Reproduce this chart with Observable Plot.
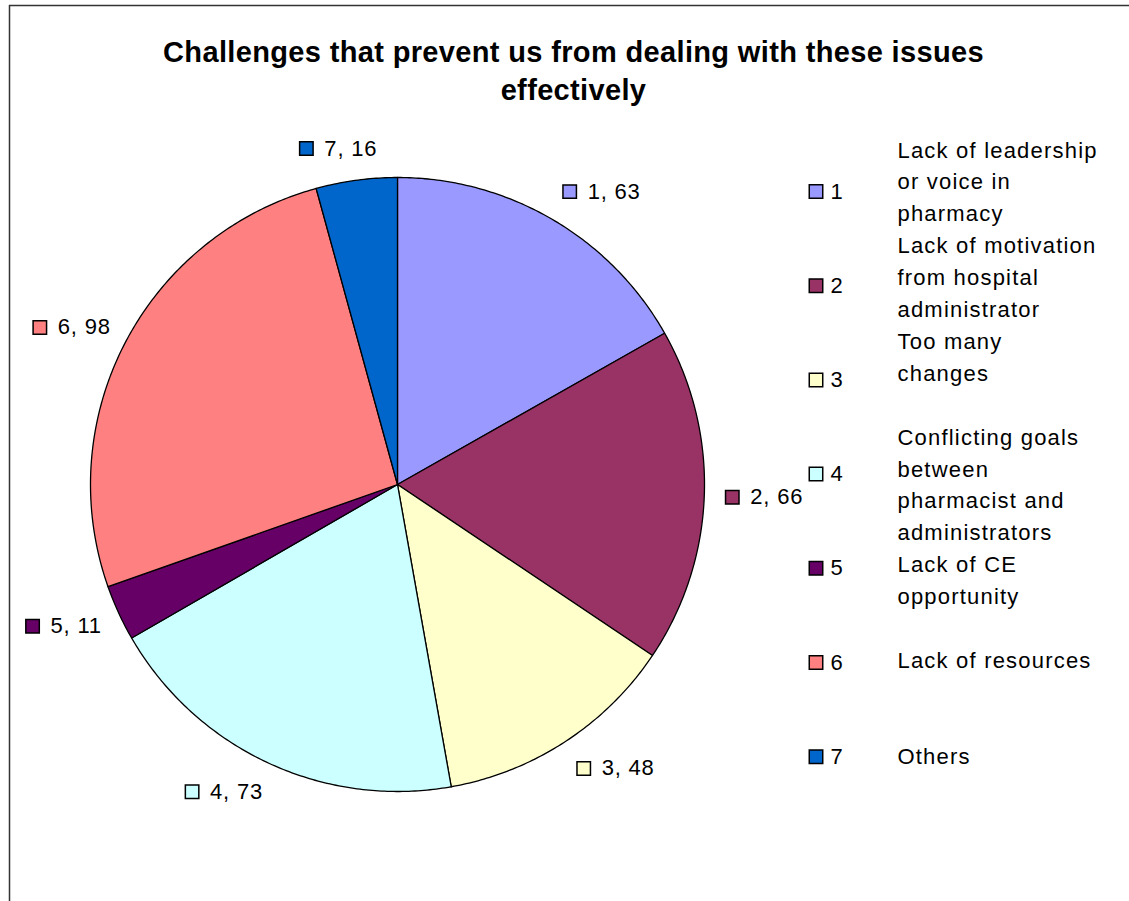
<!DOCTYPE html>
<html>
<head>
<meta charset="utf-8">
<script src="https://cdn.jsdelivr.net/npm/d3@7"></script>
<script src="https://cdn.jsdelivr.net/npm/@observablehq/plot@0.6"></script>
<style>
  html, body { margin: 0; padding: 0; background: #fff; }
  svg { display: block; }
</style>
</head>
<body>
<div id="chart"></div>
<script>
// ---- data ----
const titleLines = ["Challenges that prevent us from dealing with these issues", "effectively"];
const categories = ["1", "2", "3", "4", "5", "6", "7"];
const values = [63, 66, 48, 73, 11, 98, 16];
const colors = ["#9999FF", "#993366", "#FFFFCC", "#CCFFFF", "#660066", "#FF8080", "#0066CC"];
const legendLabels = [
  ["Lack of leadership", "or voice in", "pharmacy"],
  ["Lack of motivation", "from hospital", "administrator"],
  ["Too many", "changes"],
  ["Conflicting goals", "between", "pharmacist and", "administrators"],
  ["Lack of CE", "opportunity"],
  ["Lack of resources"],
  ["Others"]
];

// ---- layout ----
const W = 1129, H = 901;
const cx = 397, cy = 484, R = 307, labelR = 328, boxHW = 37, boxHH = 11;
const font = "'Liberation Sans', Arial, sans-serif";
const legendSqX = 815.5, legendNumX = 830, legendTextX = 897;
const legendY0 = 191, legendStep = 94.2;
const textY0 = 150, lineStep = 31.9;
const legendLineStart = [0, 3, 6, 9, 13, 16, 19];

const pie = d3.pie().sort(null).value(d => d.value);
const arcs = pie(categories.map((c, i) => ({cat: c, value: values[i], color: colors[i]})));

const px = a => cx + R * Math.sin(a);
const py = a => cy - R * Math.cos(a);

function slicePoints(a) {
  const pts = [{x: cx, y: cy}];
  const n = Math.max(2, Math.ceil((a.endAngle - a.startAngle) / 0.01));
  for (let k = 0; k <= n; k++) {
    const t = a.startAngle + (a.endAngle - a.startAngle) * k / n;
    pts.push({x: px(t), y: py(t)});
  }
  pts.push({x: cx, y: cy});
  return pts;
}

const clamp = v => Math.max(-1, Math.min(1, v));
const labels = arcs.map(a => {
  const m = (a.startAngle + a.endAngle) / 2;
  return {
    cx: cx + labelR * Math.sin(m) + boxHW * clamp(3.5 * Math.sin(m)),
    cy: cy - (labelR + boxHH) * Math.cos(m),
    text: `${a.data.cat}, ${a.data.value}`,
    color: a.data.color
  };
});

const legendItems = categories.map((c, i) => ({cat: c, color: colors[i], y: legendY0 + i * legendStep}));
const legendLines = [];
legendLabels.forEach((lines, i) => lines.forEach((t, j) => {
  legendLines.push({text: t, y: textY0 + (legendLineStart[i] + j) * lineStep});
}));

const sliceMarks = arcs.map(a => Plot.line(slicePoints(a), {
  x: "x", y: "y", fill: a.data.color, stroke: "#000", strokeWidth: 1.3, strokeLinejoin: "round"
}));

const plot = Plot.plot({
  width: W, height: H,
  margin: 0,
  x: {domain: [0, W], range: [0, W], axis: null},
  y: {domain: [0, H], range: [0, H], axis: null},
  style: {fontFamily: font, background: "#fff", overflow: "visible"},
  marks: [
    Plot.ruleX([9], {y1: 5, y2: H, stroke: "#333", strokeWidth: 1.5}),
    Plot.ruleY([5], {x1: 9, x2: W, stroke: "#333", strokeWidth: 1.5}),
    Plot.text(titleLines, {
      x: 573, y: (d, i) => 52 + i * 38, text: d => d,
      fontSize: 29, fontWeight: "bold", fill: "#000", textAnchor: "middle"
    }),
    ...sliceMarks,
    Plot.dot(labels, {x: d => d.cx - 30, y: "cy", symbol: "square", r: 7.6, fill: "color", stroke: "#000", strokeWidth: 1.5}),
    Plot.text(labels, {x: d => d.cx - 12, y: "cy", text: "text", textAnchor: "start", fontSize: 22, fill: "#000"}),
    Plot.dot(legendItems, {x: legendSqX, y: "y", symbol: "square", r: 7.6, fill: "color", stroke: "#000", strokeWidth: 1.5}),
    Plot.text(legendItems, {x: legendNumX, y: "y", text: "cat", textAnchor: "start", fontSize: 22, fill: "#000"}),
    Plot.text(legendLines, {x: legendTextX, y: "y", text: "text", textAnchor: "start", fontSize: 22, fill: "#000"})
  ],
  color: {type: "identity"}
});
// letter spacing per text mark (title, slice labels, legend numbers, legend text)
const spacing = ["0.35px", "0.8px", "1px", "1.2px"];
d3.select(plot).selectAll('g[aria-label="text"]').each(function(_, i) {
  d3.select(this).style("letter-spacing", spacing[i] || null);
});
document.getElementById("chart").appendChild(plot);
</script>
</body>
</html>
